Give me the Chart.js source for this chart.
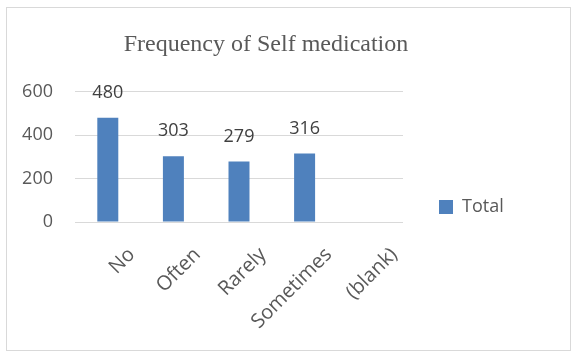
<!DOCTYPE html>
<html>
<head>
<meta charset="utf-8">
<script src="https://cdn.jsdelivr.net/npm/chart.js@4.4.1/dist/chart.umd.min.js"></script>
<style>
  html, body { margin: 0; padding: 0; background: #ffffff; }
  #frame { position: absolute; left: 6px; top: 7px; width: 565px; height: 344px; border: 1px solid #d9d9d9; box-sizing: border-box; }
  #wrap { position: absolute; left: 7px; top: 8px; width: 518px; height: 342px; }
</style>
</head>
<body>
<div id="frame"></div>
<div id="wrap"><canvas id="c"></canvas></div>
<script>
const categories = ["No", "Often", "Rarely", "Sometimes", "(blank)"];
const totals = [480, 303, 279, 316, null];
const seriesName = "Total";
const titleText = "Frequency of Self medication";
const yTicks = [0, 200, 400, 600];

const FONT = "'Open Sans', sans-serif";
const TEXT = "#595959";

const valueLabels = {
  id: 'valueLabels',
  afterDatasetsDraw(chart) {
    const ctx = chart.ctx;
    const meta = chart.getDatasetMeta(0);
    ctx.save();
    ctx.font = "18px " + FONT;
    ctx.fillStyle = "#404040";
    ctx.textAlign = "center";
    ctx.textBaseline = "middle";
    meta.data.forEach((bar, i) => {
      const v = chart.data.datasets[0].data[i];
      if (v === null || v === undefined) return;
      ctx.fillText(String(v), bar.x, bar.y - 25);
    });
    ctx.restore();
  }
};

// fixed legend column width / vertical placement to match the reference layout
const legendPlacement = {
  id: 'legendPlacement',
  afterInit(chart) {
    const lg = chart.legend;
    if (!lg) return;
    const orig = lg.fit.bind(lg);
    lg.fit = function () { orig(); this.width = 122; };
  },
  afterLayout(chart) {
    const lg = chart.legend;
    if (!lg) return;
    lg.top += 28;
    lg.bottom += 28;
  }
};

new Chart(document.getElementById('c'), {
  type: 'bar',
  data: {
    labels: categories,
    datasets: [{
      label: seriesName,
      data: totals,
      backgroundColor: "#4f81bd",
      borderWidth: 0,
      barPercentage: 0.32,
      categoryPercentage: 1
    }]
  },
  options: {
    responsive: true,
    maintainAspectRatio: false,
    animation: false,
    layout: { padding: { left: 0, right: 0, top: 0, bottom: 0 } },
    plugins: {
      title: {
        display: true,
        text: titleText,
        color: TEXT,
        font: { family: "'Liberation Serif', 'Times New Roman', serif", size: 24, weight: 'normal' },
        padding: { top: 22, bottom: 33 }
      },
      legend: {
        position: 'right',
        align: 'center',
        labels: {
          boxWidth: 14,
          boxHeight: 14,
          padding: 36,
          color: TEXT,
          font: { family: FONT, size: 18 }
        }
      },
      tooltip: { enabled: false }
    },
    scales: {
      x: {
        grid: { display: false, drawTicks: false },
        border: { display: false },
        ticks: {
          color: TEXT,
          font: { family: FONT, size: 20 },
          minRotation: 45,
          maxRotation: 45,
          padding: 21,
          labelOffset: 24
        },
        afterFit(scale) { scale.height = 128; }
      },
      y: {
        min: 0,
        max: 600,
        afterBuildTicks(scale) { scale.ticks = yTicks.map(v => ({ value: v })); },
        grid: { color: "#d9d9d9", lineWidth: 1, drawTicks: false },
        border: { display: false },
        ticks: {
          color: TEXT,
          font: { family: FONT, size: 18 },
          padding: 22
        },
        afterFit(scale) { scale.width = 68; }
      }
    }
  },
  plugins: [valueLabels, legendPlacement]
});
</script>
</body>
</html>
